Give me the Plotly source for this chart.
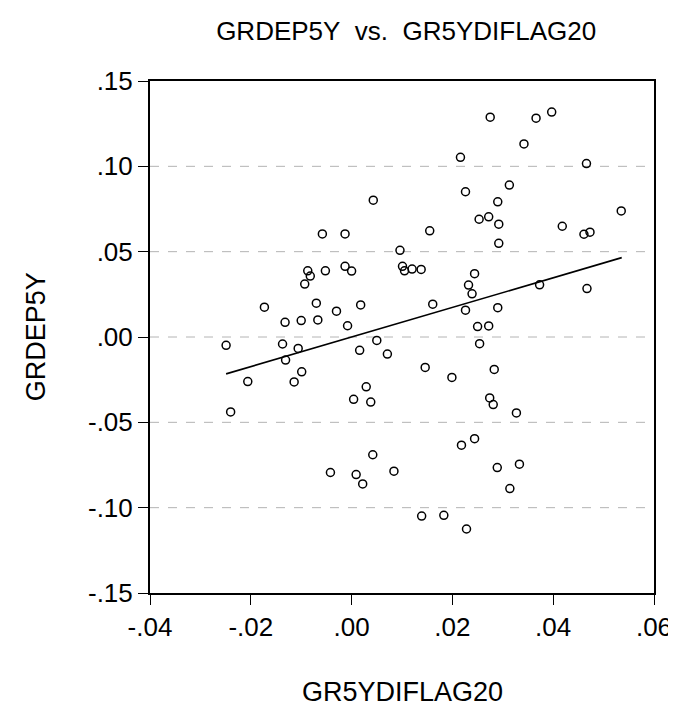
import plotly.graph_objects as go

gr5ydiflag20 = [
    0.0043, -0.0058, -0.0013, 0.0096, -0.0087, -0.0082, -0.0052, -0.0013, 0.0000, -0.0093,
    0.0101, 0.0105, 0.0120, -0.0173, -0.0070, -0.0132, -0.0100, -0.0067, -0.0030, 0.0018,
    -0.0008, 0.0275, 0.0366, 0.0397, 0.0342, 0.0216, 0.0466, 0.0313, 0.0226, 0.0290,
    0.0253, 0.0272, 0.0292, 0.0535, 0.0418, 0.0461, 0.0473, 0.0292, 0.0155, 0.0138,
    0.0244, 0.0232, 0.0239, 0.0161, 0.0373, 0.0467, 0.0226, 0.0290, 0.0250, 0.0272,
    -0.0249, -0.0240, -0.0206, -0.0137, -0.0106, -0.0131, -0.0099, -0.0114, 0.0050, 0.0016,
    0.0071, 0.0029, 0.0004, 0.0038, 0.0042, -0.0042, 0.0009, 0.0022, 0.0084, 0.0254,
    0.0146, 0.0199, 0.0283, 0.0274, 0.0281, 0.0327, 0.0244, 0.0218, 0.0289, 0.0333,
    0.0314, 0.0139, 0.0183, 0.0228,
]
grdep5y = [
    0.0802, 0.0604, 0.0604, 0.0508, 0.0388, 0.0357, 0.0388, 0.0414, 0.0386, 0.0310,
    0.0414, 0.0388, 0.0398, 0.0175, 0.0198, 0.0086, 0.0096, 0.0100, 0.0151, 0.0188,
    0.0066, 0.1288, 0.1282, 0.1318, 0.1131, 0.1053, 0.1016, 0.0890, 0.0851, 0.0792,
    0.0690, 0.0704, 0.0661, 0.0739, 0.0649, 0.0602, 0.0614, 0.0549, 0.0622, 0.0396,
    0.0371, 0.0304, 0.0253, 0.0192, 0.0306, 0.0284, 0.0157, 0.0172, 0.0061, 0.0065,
    -0.0049, -0.0439, -0.0261, -0.0041, -0.0067, -0.0135, -0.0204, -0.0263, -0.0020, -0.0078,
    -0.0100, -0.0292, -0.0365, -0.0381, -0.0690, -0.0794, -0.0806, -0.0861, -0.0786, -0.0039,
    -0.0178, -0.0237, -0.0190, -0.0357, -0.0396, -0.0445, -0.0596, -0.0634, -0.0765, -0.0745,
    -0.0888, -0.1049, -0.1045, -0.1125,
]

# Regression line end points
fit_x = [-0.0249, 0.0536]
fit_y = [-0.0216, 0.0465]

x_tickvals = [-0.04, -0.02, 0.00, 0.02, 0.04, 0.06]
x_ticktext = ["-.04", "-.02", ".00", ".02", ".04", ".06"]
y_tickvals = [-0.15, -0.10, -0.05, 0.00, 0.05, 0.10, 0.15]
y_ticktext = ["-.15", "-.10", "-.05", ".00", ".05", ".10", ".15"]
grid_vals = [-0.10, -0.05, 0.00, 0.05, 0.10]

FONT = "Liberation Sans, Arial, sans-serif"

fig = go.Figure()

# dashed horizontal grid lines
for g in grid_vals:
    fig.add_shape(type="line", xref="x domain", yref="y", x0=0, x1=1, y0=g, y1=g,
                  line=dict(color="#b4b4b4", width=1, dash="dash"), layer="below")

fig.add_trace(go.Scatter(
    x=gr5ydiflag20, y=grdep5y, mode="markers",
    marker=dict(symbol="circle-open", size=8, color="black", line=dict(width=1.5, color="black")),
    showlegend=False, hoverinfo="x+y",
))
fig.add_trace(go.Scatter(
    x=fit_x, y=fit_y, mode="lines",
    line=dict(color="black", width=1.6),
    showlegend=False, hoverinfo="skip",
))

fig.update_layout(
    width=676, height=706,
    margin=dict(l=142, r=20, t=73, b=121),
    paper_bgcolor="white", plot_bgcolor="white",
    font=dict(family=FONT, color="black", size=26),
    title=dict(text="GRDEP5Y\u00a0\u00a0vs.\u00a0\u00a0GR5YDIFLAG20", x=0.589, xanchor="center",
               y=1 - 23 / 706, yanchor="middle", yref="container",
               font=dict(family=FONT, size=26, color="black")),
)

fig.update_xaxes(
    range=[-0.04, 0.06], tickvals=x_tickvals, ticktext=x_ticktext,
    showgrid=False, zeroline=False,
    showline=True, linecolor="black", linewidth=2, mirror=True,
    ticks="outside", ticklen=10, tickwidth=1, tickcolor="black",
    tickfont=dict(family=FONT, size=26, color="black"),
)
fig.update_yaxes(
    range=[-0.15, 0.15], tickvals=y_tickvals, ticktext=y_ticktext,
    showgrid=False, zeroline=False,
    showline=True, linecolor="black", linewidth=2, mirror=True,
    ticks="outside", ticklen=10, tickwidth=1, tickcolor="black",
    tickfont=dict(family=FONT, size=26, color="black"),
)

# axis titles
fig.add_annotation(text="GR5YDIFLAG20", xref="paper", yref="paper",
                   x=0.5, y=-(684 - 585) / 512, xanchor="center", yanchor="middle",
                   showarrow=False, font=dict(family=FONT, size=27, color="black"))
fig.add_annotation(text="GRDEP5Y", xref="paper", yref="paper",
                   x=-(142 - 26) / 514, y=0.5, xanchor="center", yanchor="middle",
                   textangle=-90, showarrow=False, font=dict(family=FONT, size=27, color="black"))

fig.write_html("out.html")
